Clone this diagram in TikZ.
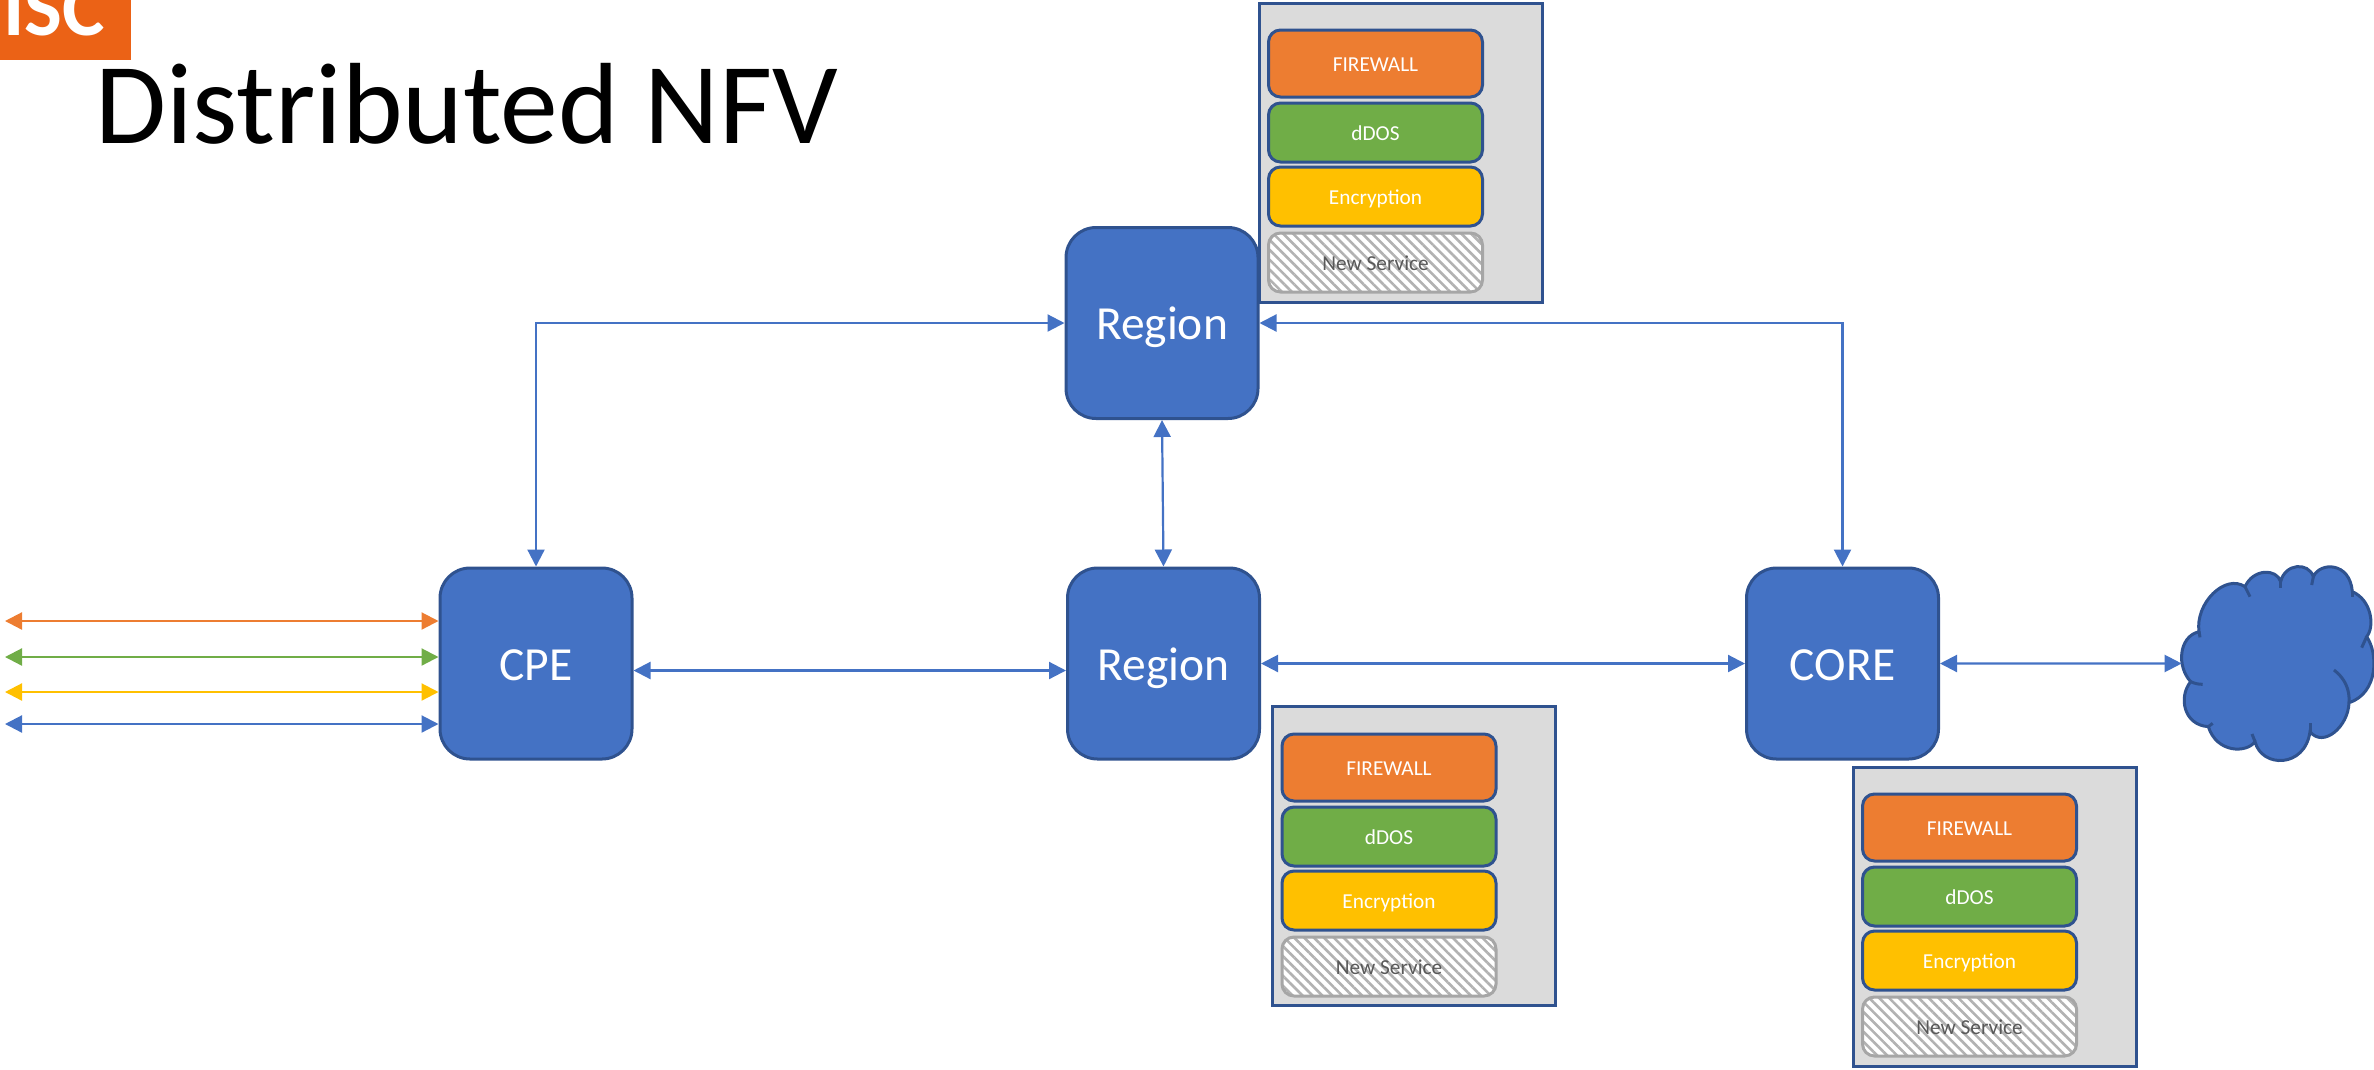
\documentclass[tikz,border=0pt]{standalone}
\usepackage{fontspec}
\setmainfont{Carlito}
\usetikzlibrary{arrows.meta,patterns.meta}
\definecolor{boxblue}{HTML}{4472C4}
\definecolor{boxedge}{HTML}{2F528F}
\definecolor{fworange}{HTML}{ED7D31}
\definecolor{ddosgreen}{HTML}{70AD47}
\definecolor{encgold}{HTML}{FFC000}
\definecolor{panelgray}{HTML}{DBDBDB}
\definecolor{logoorange}{HTML}{EB6216}
\tikzset{
  site/.style={draw=boxedge,line width=3pt,fill=boxblue,rounded corners=30pt,minimum width=192pt,minimum height=191pt,text=white,text height=33pt,text depth=0pt,font=\fontsize{47.5}{54}\selectfont},
  panel/.style={draw=boxedge,line width=3pt,fill=panelgray,minimum width=283pt,minimum height=299pt},
  service/.style={draw=boxedge,line width=3pt,rounded corners=12pt,minimum width=214pt,text=white,text height=15pt,text depth=0pt,font=\fontsize{21.3}{26}\selectfont},
  firewall/.style={service,fill=fworange,minimum height=67pt},
  ddos/.style={service,fill=ddosgreen,minimum height=59pt},
  encryption/.style={service,fill=encgold,minimum height=59pt},
  newservice/.style={service,draw=gray!70,minimum height=59pt,text=black!65,preaction={fill=white},pattern={Lines[angle=-45,distance=7pt,line width=2.6pt]},pattern color=gray!60},
  link/.style={<->,>={Triangle[length=17pt,width=17pt]},line width=2.2pt,draw=boxblue}
}
\begin{document}
\begin{tikzpicture}[x=1pt,y=-1pt]
\useasboundingbox (0,0) rectangle (2374,1069);
\begin{scope}
\clip (0,0) rectangle (131,60);
\node[fill=logoorange,minimum width=131pt,minimum height=60pt,anchor=north west,inner sep=0pt] (logo) at (0,0) {};
\node[anchor=base west,inner sep=0pt,text=white,font=\bfseries\fontsize{80}{80}\selectfont] (logotext) at (3,35) {ISC};
\end{scope}
\node[anchor=base west,inner sep=0pt,font=\fontsize{115.5}{120}\selectfont] (title) at (95,143) {Distributed NFV};

\node[site] (regiontop) at (1162,323) {Region};
\node[site] (regionmid) at (1163.5,663.5) {Region};
\node[site] (cpe) at (536,663.5) {CPE};
\node[site] (core) at (1842.5,663.5) {CORE};

\node[panel] (paneltop) at (1401,153) {};
\node[firewall] (firewalltop) at (1375.5,63.5) {FIREWALL};
\node[ddos] (ddostop) at (1375.5,132.5) {dDOS};
\node[encryption] (enctop) at (1375.5,196.5) {Encryption};
\node[newservice] (newtop) at (1375.5,262.5) {New Service};

\node[panel] (panelmid) at (1414,856) {};
\node[firewall] (firewallmid) at (1389,767.5) {FIREWALL};
\node[ddos] (ddosmid) at (1389,836.5) {dDOS};
\node[encryption] (encmid) at (1389,900.5) {Encryption};
\node[newservice] (newmid) at (1389,966.5) {New Service};

\node[panel] (panelcore) at (1995,917) {};
\node[firewall] (firewallcore) at (1969.5,827.5) {FIREWALL};
\node[ddos] (ddoscore) at (1969.5,896.5) {dDOS};
\node[encryption] (enccore) at (1969.5,960.5) {Encryption};
\node[newservice] (newcore) at (1969.5,1026.5) {New Service};

\begin{scope}[shift={(2150,550)},x=0.3333pt,y=-0.3333pt,draw=boxedge,line width=3pt]
\coordinate (cloudwest) at (95,340.5);
\draw[fill=boxblue] (147,245) .. controls (135,160) and (225,70) .. (285,110)
  .. controls (310,55) and (380,55) .. (392,95)
  .. controls (405,40) and (475,35) .. (490,80)
  .. controls (510,35) and (600,35) .. (607,125)
  .. controls (665,150) and (675,230) .. (650,260)
  .. controls (685,310) and (685,430) .. (597,458)
  .. controls (595,530) and (520,595) .. (480,545)
  .. controls (465,655) and (335,655) .. (315,575)
  .. controls (290,610) and (200,610) .. (175,530)
  .. controls (100,525) and (85,440) .. (122,395)
  .. controls (80,350) and (85,260) .. (147,245) -- cycle;
\draw (147,245) -- (150,262);
\draw (285,110) -- (300,140);
\draw (392,95) -- (392,115);
\draw (490,80) -- (485,105);
\draw (607,125) -- (607,142);
\draw (650,260) -- (635,293);
\draw (597,458) .. controls (600,420) and (585,385) .. (552,360);
\draw (480,545) -- (480,518);
\draw (315,575) -- (306,552);
\draw (175,530) -- (188,520);
\draw (122,395) .. controls (132,400) and (145,403) .. (158,403);
\end{scope}

\coordinate (lineorange) at (5,621);
\coordinate (linegreen) at (5,657);
\coordinate (linegold) at (5,692);
\coordinate (lineblue) at (5,724);
\draw[link,draw=fworange] (lineorange) -- (lineorange -| cpe.west);
\draw[link,draw=ddosgreen] (linegreen) -- (linegreen -| cpe.west);
\draw[link,draw=encgold] (linegold) -- (linegold -| cpe.west);
\draw[link] (lineblue) -- (lineblue -| cpe.west);

\draw[link] (cpe.north) |- (regiontop.west);
\draw[link] (regiontop.east) -| (core.north);
\draw[link] (regiontop.south) -- (regionmid.north);
\draw[link] ([yshift=-7pt]cpe.east) -- ([yshift=-7pt]regionmid.west);
\draw[link] (regionmid.east) -- (core.west);
\draw[link] (core.east) -- (cloudwest);
\end{tikzpicture}
\end{document}
